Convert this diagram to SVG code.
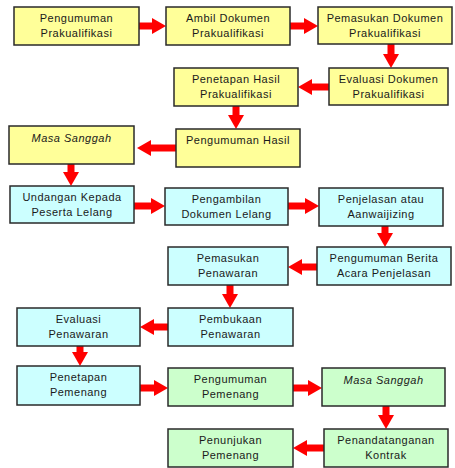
<svg xmlns="http://www.w3.org/2000/svg" width="455" height="468" viewBox="0 0 455 468">
<defs>
<style>
.y rect,.c rect,.g rect{stroke:#2a2a2a;stroke-width:1.5}
.y rect{fill:#FFFF99}
.c rect{fill:#CCFFFF}
.g rect{fill:#CCFFCC}
text{font-family:"Liberation Sans","DejaVu Sans",sans-serif;font-size:11px;fill:#1a1a1a;text-anchor:middle;letter-spacing:0.5px}
.conn line{stroke:#FF0000;stroke-width:7;marker-end:url(#ah)}
</style>
<marker id="ah" markerUnits="userSpaceOnUse" markerWidth="14" markerHeight="16" refX="0" refY="8" orient="auto" viewBox="0 0 14 16">
<path d="M0,0 L14,8 L0,16 z" fill="#FF0000"/>
</marker>
</defs>
<rect x="0" y="0" width="455" height="468" fill="#fff"/>
<g class="conn">
<line x1="139" y1="26" x2="152" y2="26"/>
<line x1="290" y1="26" x2="304" y2="26"/>
<line x1="391" y1="44" x2="391" y2="54"/>
<line x1="329" y1="87" x2="312" y2="87"/>
<line x1="236" y1="106" x2="236" y2="115"/>
<line x1="176" y1="148" x2="151" y2="148"/>
<line x1="71" y1="164" x2="71" y2="172"/>
<line x1="134" y1="206" x2="151" y2="206"/>
<line x1="288" y1="206" x2="305" y2="206"/>
<line x1="385" y1="226" x2="385" y2="233"/>
<line x1="317" y1="267" x2="302" y2="267"/>
<line x1="230" y1="285" x2="230" y2="294"/>
<line x1="168" y1="327" x2="154" y2="327"/>
<line x1="80" y1="346" x2="80" y2="352"/>
<line x1="140" y1="388" x2="154" y2="388"/>
<line x1="293" y1="388" x2="308" y2="388"/>
<line x1="386" y1="406" x2="386" y2="415"/>
<line x1="324" y1="448" x2="307" y2="448"/>
</g>
<g id="n1" class="y"><rect x="14" y="7" width="125" height="38"/><text x="76.5" y="22">Pengumuman</text><text x="76.5" y="37">Prakualifikasi</text></g>
<g id="n2" class="y"><rect x="166" y="7" width="124" height="38"/><text x="228" y="22">Ambil Dokumen</text><text x="228" y="37">Prakualifikasi</text></g>
<g id="n3" class="y"><rect x="318" y="7" width="134" height="37"/><text x="385" y="22">Pemasukan Dokumen</text><text x="385" y="37">Prakualifikasi</text></g>
<g id="n4" class="y"><rect x="329" y="68" width="119" height="37"/><text x="388.5" y="83">Evaluasi Dokumen</text><text x="388.5" y="98">Prakualifikasi</text></g>
<g id="n5" class="y"><rect x="174" y="68" width="124" height="38"/><text x="236" y="83">Penetapan Hasil</text><text x="236" y="98">Prakualifikasi</text></g>
<g id="n6" class="y"><rect x="176" y="129" width="124" height="38"/><text x="238" y="144">Pengumuman Hasil</text></g>
<g id="n7" class="y"><rect x="9" y="126" width="125" height="38"/><text x="71.5" y="142" font-style="italic">Masa Sanggah</text></g>
<g id="n8" class="c"><rect x="10" y="186" width="124" height="37"/><text x="72" y="201">Undangan Kepada</text><text x="72" y="216">Peserta Lelang</text></g>
<g id="n9" class="c"><rect x="165" y="188" width="123" height="37"/><text x="226.5" y="203">Pengambilan</text><text x="226.5" y="218">Dokumen Lelang</text></g>
<g id="n10" class="c"><rect x="319" y="188" width="124" height="38"/><text x="381" y="203">Penjelasan atau</text><text x="381" y="218">Aanwaijizing</text></g>
<g id="n11" class="c"><rect x="317" y="247" width="134" height="38"/><text x="384" y="262">Pengumuman Berita</text><text x="384" y="277">Acara Penjelasan</text></g>
<g id="n12" class="c"><rect x="168" y="247" width="120" height="38"/><text x="228" y="262">Pemasukan</text><text x="228" y="277">Penawaran</text></g>
<g id="n13" class="c"><rect x="168" y="308" width="125" height="38"/><text x="230.5" y="323">Pembukaan</text><text x="230.5" y="338">Penawaran</text></g>
<g id="n14" class="c"><rect x="17" y="308" width="123" height="38"/><text x="78.5" y="323">Evaluasi</text><text x="78.5" y="338">Penawaran</text></g>
<g id="n15" class="c"><rect x="17" y="366" width="123" height="39"/><text x="78.5" y="381">Penetapan</text><text x="78.5" y="396">Pemenang</text></g>
<g id="n16" class="g"><rect x="168" y="368" width="125" height="38"/><text x="230.5" y="383">Pengumuman</text><text x="230.5" y="398">Pemenang</text></g>
<g id="n17" class="g"><rect x="322" y="368" width="123" height="38"/><text x="383.5" y="384" font-style="italic">Masa Sanggah</text></g>
<g id="n18" class="g"><rect x="324" y="429" width="124" height="38"/><text x="386" y="444">Penandatanganan</text><text x="386" y="459">Kontrak</text></g>
<g id="n19" class="g"><rect x="168" y="429" width="125" height="38"/><text x="230.5" y="444">Penunjukan</text><text x="230.5" y="459">Pemenang</text></g>
</svg>
